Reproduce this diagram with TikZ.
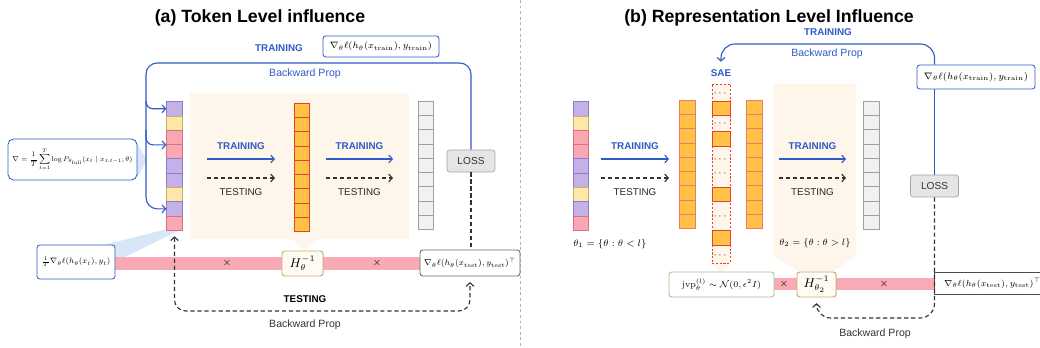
\documentclass[tikz,border=0pt]{standalone}
\usepackage[no-math]{fontspec}
\setmainfont{Liberation Sans}
\usepackage{amsmath,amssymb}
\usetikzlibrary{arrows.meta}
\usetikzlibrary{positioning}

\definecolor{ablue}{HTML}{2E5BC7}
\definecolor{cpurp}{HTML}{C3B1E8}
\definecolor{cpurpd}{HTML}{8F7BC9}
\definecolor{cyel}{HTML}{FFE7A8}
\definecolor{cyeld}{HTML}{C9AE66}
\definecolor{cpink}{HTML}{F9A8B3}
\definecolor{cpinkd}{HTML}{D8727F}
\definecolor{corng}{HTML}{FFC247}
\definecolor{corngd}{HTML}{E0452A}
\definecolor{cgray}{HTML}{F1F1F1}
\definecolor{cgrayd}{HTML}{A0A0A0}
\definecolor{cbeige}{HTML}{FEF6EB}
\definecolor{cbar}{HTML}{F9AAB5}
\definecolor{cwedge}{HTML}{D9E6F8}
\definecolor{hline}{HTML}{C9AC80}
\definecolor{hfill}{HTML}{FFFBF3}
\definecolor{cgreen}{HTML}{98C38C}

% math set to a fixed width
\newcommand{\fitmath}[2]{\resizebox{#1}{!}{$#2$}}

\tikzset{
  ttl/.style={font=\fontsize{12.6}{15}\selectfont\bfseries},
  trn/.style={font=\fontsize{7}{8}\selectfont\bfseries, text=ablue},
  tstlbl/.style={font=\fontsize{7}{8}\selectfont, text=black!85},
  bpblue/.style={font=\fontsize{7.5}{9}\selectfont, text=ablue},
  cell/.style={draw, minimum width=0.3875cm, minimum height=0.3575cm, inner sep=0pt, line width=0.5pt},
  tpurp/.style={cell, fill=cpurp, draw=cpurpd},
  tyel/.style={cell, fill=cyel, draw=cyeld},
  tpink/.style={cell, fill=cpink, draw=cpinkd},
  hcell/.style={cell, fill=corng, draw=corngd},
  ocell/.style={cell, fill=cgray, draw=cgrayd},
  mbox/.style={draw, fill=white, rounded corners=2pt, inner sep=1pt, line width=0.6pt},
  hbox/.style={draw=hline, fill=hfill, rounded corners=2pt, minimum width=1.025cm, minimum height=0.625cm, inner sep=1pt, line width=0.7pt, font=\fontsize{9}{10}\selectfont},
  lossbox/.style={draw=black!35, fill=black!10, rounded corners=2pt, minimum width=1.2cm, minimum height=0.55cm, inner sep=1pt, line width=0.5pt, font=\fontsize{7.2}{8}\selectfont, text=black!80},
  saecol/.style={draw=corngd, dashed, dash pattern=on 1.5pt off 1.2pt, fill=cbeige, minimum width=0.45cm, minimum height=4.475cm, inner sep=0pt, line width=0.5pt},
  scell/.style={draw=corngd, fill=corng, minimum width=0.45cm, minimum height=0.3625cm, inner sep=0pt, line width=0.6pt},
  saedots/.style={font=\fontsize{6}{6}\selectfont, inner sep=0pt},
  bline/.style={draw=ablue, line width=0.8pt},
  dline/.style={draw=black!80, line width=0.8pt, dash pattern=on 3pt off 2pt},
  fwd/.style={bline, ->},
  tst/.style={dline, ->}
}

\begin{document}
\begin{tikzpicture}[x=0.025cm, y=-0.025cm, font=\fontsize{7}{8}\selectfont,
  >={Straight Barb[length=2.5pt,width=5.5pt]}]
  \useasboundingbox (0,0) rectangle (1040,348);
  % separator between the two panels
  \draw[black!30, line width=0.4pt, dash pattern=on 2pt off 2pt] (520,0) -- (520,348);
  % titles
  \node[ttl] (titleA) at (260,18) {(a) Token Level influence};
  \node[ttl] (titleB) at (769,18) {(b) Representation Level Influence};

  % ---------------- Panel (a) ----------------
  % backgrounds: model block, callout wedges, product bar
  \fill[cbeige] (190,93) -- (409,93) -- (409,239) -- (316,239) -- (304,251) -- (292,239) -- (190,239) -- cycle;
  \fill[cwedge] (137,143) -- (147,160) -- (137,178) -- cycle;
  \fill[cwedge] (100,246) -- (167,229) -- (182,229) -- (115,262) -- cycle;
  \fill[cbar] (115,257) rectangle (421,270);
  % input tokens
  \foreach \c [count=\i] in {tpurp,tyel,tpink,tpink,tpurp,tpurp,tyel,tpurp,tpink}
    \node[\c] (ta\i) at (174.5,{94.45+14.3*\i}) {};
  % hidden states
  \foreach \i in {1,...,9}
    \node[hcell] (ma\i) at (302,{95.85+14.3*\i}) {};
  % outputs
  \foreach \i in {1,...,9}
    \node[ocell] (oa\i) at (426,{93.85+14.3*\i}) {};
  \node[lossbox] (lossA) at (471,161) {LOSS};
  % gradient boxes
  \node[trn] (trnA) at (279,48) {TRAINING};
  \node[mbox, draw=ablue, minimum width=2.9cm, minimum height=0.525cm] (trainA) at (381,46.5)
    {\fitmath{2.55cm}{\nabla_\theta \ell(h_\theta(x_{\mathrm{train}}), y_{\mathrm{train}})}};
  \node[bpblue] (bpA) at (305,74) {Backward Prop};
  \node[mbox, draw=ablue, rounded corners=4pt, minimum width=3.225cm, minimum height=1.025cm] (lossdef) at (72.5,159.5)
    {\fitmath{3.0cm}{\displaystyle \nabla = \frac{1}{T}\sum_{t=1}^{T}\log P_{\theta_{\mathrm{full}}}(x_t \mid x_{1:t-1};\theta)}};
  \node[mbox, draw=ablue, minimum width=1.95cm, minimum height=0.85cm] (gradA) at (76,262)
    {\fitmath{1.72cm}{\frac{1}{T}\nabla_\theta \ell(h_\theta(x_t), y_t)}};
  \node[hbox] (hA) at (302.5,263.5) {$H_\theta^{-1}$};
  \node[mbox, draw=black!60, minimum width=2.5cm, minimum height=0.65cm] (testA) at (470,263)
    {\fitmath{2.3cm}{\nabla_\theta \ell(h_\theta(x_{\mathrm{test}}), y_{\mathrm{test}})^\top}};
  \node (xA1) at (227,263) {$\times$};
  \node (xA2) at (377,263) {$\times$};
  \node[font=\fontsize{7}{8}\selectfont\bfseries] (tstA) at (305,299) {TESTING};
  \node[font=\fontsize{7.5}{9}\selectfont, text=black!80] (bpA2) at (305,325) {Backward Prop};
  % backward loop (training)
  \coordinate (lpA) at (146,63);
  \draw[bline, ->, rounded corners=8pt] (lossA.north) |- (lpA) -- (lpA |- ta8.west) -- (ta8.west);
  \draw[bline, ->, rounded corners=5pt] (lpA |- ta1.north) |- (ta1.west);
  \draw[bline, ->, rounded corners=5pt] (lpA |- ta3.north) |- (ta3.south west);
  % backward loop (testing)
  \coordinate (tbA) at (174.5,311);
  \draw[dline] (lossA.south) -- (lossA.south |- testA.north);
  \draw[dline, <->, rounded corners=8pt, shorten <=4pt, shorten >=4pt] (ta9.south) -- (tbA) -| (testA.south);

  % ---------------- Panel (b) ----------------
  \fill[cbeige] (773,84) -- (856,84) -- (856,256) -- (832,272) -- (800,272) -- (773,256) -- cycle;
  \fill[cbeige] (712,263) -- (730,263) -- (721,273) -- cycle;
  \fill[cbar] (774,278) rectangle (934,290);
  % input tokens
  \foreach \c [count=\i] in {tpurp,tyel,tpink,tpink,tpurp,tpurp,tyel,tpurp,tpink}
    \node[\c] (tb\i) at (581,{94.45+14.3*\i}) {};
  % layer l activations, before and after the SAE
  \foreach \i in {1,...,9} {
    \node[hcell, draw=corngd!70] (hb\i) at (687.5,{92.85+14.3*\i}) {};
    \node[hcell, draw=corngd!70] (hc\i) at (754.5,{92.85+14.3*\i}) {};
  }
  % SAE features
  \node[saecol] (saeCol) at (721,173.5) {};
  \foreach \y [count=\i] in {108.5,139,194.5,238}
    \node[scell] (sc\i) at (721,\y) {};
  \foreach \y [count=\i] in {93,123,159,173,216,255}
    \node[saedots] (sd\i) at (721,\y) {$\cdots$};
  \node[trn] (saeLbl) at (721,73) {SAE};
  % outputs
  \foreach \i in {1,...,9}
    \node[ocell] (ob\i) at (871.5,{93.85+14.3*\i}) {};
  \node[lossbox] (lossB) at (934.5,186) {LOSS};
  \node (th1) at (610,244) {\fitmath{1.83cm}{\theta_1 = \{\theta : \theta < l\}}};
  \node (th2) at (815,243) {\fitmath{1.78cm}{\theta_2 = \{\theta : \theta > l\}}};
  % gradient boxes
  \node[trn] (trnB) at (828,32) {TRAINING};
  \node[bpblue] (bpB) at (827,54) {Backward Prop};
  \node[mbox, draw=ablue, minimum width=2.95cm, minimum height=0.6cm] (trainB) at (976,77)
    {\fitmath{2.6cm}{\nabla_\theta \ell(h_\theta(x_{\mathrm{train}}), y_{\mathrm{train}})}};
  \node[mbox, draw=cgreen, minimum width=2.625cm, minimum height=0.625cm] (jvp) at (721.5,284.5)
    {\fitmath{1.98cm}{\mathrm{jvp}_\theta^{(l)} \sim \mathcal{N}(0, \epsilon^2 I)}};
  \node[hbox, minimum width=0.975cm] (hB) at (816.5,284.5) {$H_{\theta_2}^{-1}$};
  \node[mbox, draw=black!70, rounded corners=0pt, minimum width=2.75cm, minimum height=0.55cm,
    inner xsep=0pt, anchor=west] (testB) at (934,283.5)
    {\hspace{4.5pt}\fitmath{2.42cm}{\nabla_\theta \ell(h_\theta(x_{\mathrm{test}}), y_{\mathrm{test}})^\top}\hspace{6pt}};
  \node (xB1) at (784,284) {$\times$};
  \node (xB2) at (884,284) {$\times$};
  \node[font=\fontsize{7.5}{9}\selectfont, text=black!80] (bpB2) at (875,334) {Backward Prop};
  % backward loop (training)
  \coordinate (lpB) at (934.5,44);
  \draw[bline, ->, rounded corners=10pt, shorten >=2pt] (trainB.north -| lossB.north) -- (lpB) -| (saeLbl.north);
  \draw[bline] (trainB.south -| lossB.north) -- (lossB.north);
  % backward loop (testing)
  \coordinate (tbB) at (816.5,318);
  \draw[dline, ->, rounded corners=10pt, shorten >=4pt] (lossB.south) |- (tbB) -- (hB.south);

  % forward passes
  \foreach \xa/\xb [count=\i] in {207/275, 326/393, 601/669, 779/846} {
    \coordinate (fs\i) at (\xa,159);
    \coordinate (fe\i) at (\xb,159);
    \coordinate (ds\i) at (\xa,178);
    \coordinate (de\i) at (\xb,178);
    \draw[fwd] (fs\i) -- (fe\i) node[midway, above=3pt, trn] {TRAINING};
    \draw[tst] (ds\i) -- (de\i) node[midway, below=4pt, tstlbl] {TESTING};
  }
\end{tikzpicture}
\end{document}
